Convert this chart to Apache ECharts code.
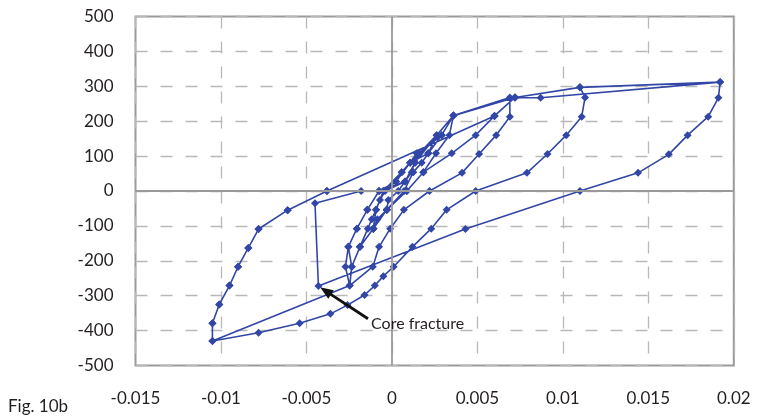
<!DOCTYPE html>
<html>
<head>
<meta charset="utf-8">
<script src="https://cdn.jsdelivr.net/npm/echarts@6/dist/echarts.min.js"></script>
<style>
  html, body { margin: 0; padding: 0; background: #fff; }
  #chart { width: 771px; height: 419px; }
</style>
</head>
<body>
<div id="chart"></div>
<script>
// Axis ticks
const xTicks = [-0.015, -0.01, -0.005, 0, 0.005, 0.01, 0.015, 0.02];
const yTicks = [-500, -400, -300, -200, -100, 0, 100, 200, 300, 400, 500];

// Load path, [strain, load], in test order
const smallCycles = [
  [-0.0005, 0], [0.00024, 27], [0.00057, 54], [0.00106, 81], [0.00145, 108],
  [0.00116, 54], [0.00037, 0], [-0.00021, -26], [-0.0003, -54], [-0.00085, -81], [-0.00109, -108],
  [-0.00093, -54], [-0.0007, -26], [-0.0004, 0],
  [0.00077, 27], [0.00135, 81], [0.0016, 108], [0.00262, 160],
  [0.00213, 108], [0.00174, 81], [0.00125, 54], [0.00071, 0], [-0.0003, -54], [-0.00109, -108], [-0.00187, -160],
  [-0.00141, -108], [-0.00118, -81], [-0.00093, -54], [-0.0005, 0],
  [0.00057, 54], [0.0016, 108], [0.00291, 160], [0.0036, 216],
  [0.00336, 160], [0.00258, 108], [0.00184, 54], [0.00087, 0], [-0.0003, -54], [-0.00109, -108], [-0.00187, -160], [-0.00235, -217],
  [-0.00255, -160], [-0.00205, -108], [-0.00144, -54], [-0.00075, 0], [0.00024, 27], [0.00106, 81], [0.00213, 108], [0.00291, 160], [0.0036, 216]
];
const cycleB1 = [
  [0.0069, 268], [0.0069, 213], [0.0061, 160], [0.0051, 106], [0.0041, 52], [0.0022, 0],
  [0.0007, -54], [-0.0001, -108], [-0.00075, -160], [-0.00112, -217], [-0.00247, -271],
  [-0.00272, -217], [-0.00255, -160], [-0.00205, -108], [-0.00144, -54], [-0.00075, 0],
  [0.00077, 27], [0.00135, 81], [0.00262, 160], [0.0036, 216], [0.0072, 268]
];
const cycleB2 = [
  [0.006, 215], [0.0049, 160], [0.0035, 108], [0.00184, 54], [0.00087, 0], [-0.0003, -54],
  [-0.00109, -108], [-0.00187, -160], [-0.00235, -217], [-0.00247, -271], [-0.0105, -430]
];
const unloadFromMin = [
  [-0.0105, -379], [-0.0101, -325], [-0.0095, -271], [-0.009, -217], [-0.0084, -163],
  [-0.0078, -109], [-0.0061, -55], [-0.0038, 0]
];
const cycleC = [
  [0.006, 215], [0.0072, 268], [0.011, 297],
  [0.0113, 268], [0.0111, 213], [0.0102, 160], [0.0091, 106], [0.0079, 52], [0.0049, 0],
  [0.0032, -54], [0.0023, -108], [0.0012, -160], [0.0001, -217], [-0.0005, -244], [-0.001, -271],
  [-0.0016, -298], [-0.0026, -327], [-0.0036, -352], [-0.0054, -379], [-0.0078, -406], [-0.0105, -430]
];
const cycleD = [
  [0.006, 215], [0.0072, 268], [0.0087, 267], [0.0192, 312], [0.011, 297], [0.0192, 312],
  [0.0191, 267], [0.0185, 213], [0.0173, 160], [0.0162, 105], [0.0144, 52], [0.011, 0],
  [0.0043, -109], [-0.0043, -272], [-0.0045, -35], [-0.0018, 0]
];

const path = [].concat(smallCycles, cycleB1, cycleB2, unloadFromMin, cycleC, unloadFromMin, cycleD);

// Annotation, in data units
const noteText = 'Core fracture';
const notePos = [-0.00122, -381];
const arrowFrom = [-0.0014, -366];
const arrowTo = [-0.0042, -276];

const FONT = 'Lato, "Noto Sans", sans-serif';
const INK = '#231f20';
const BLUE = '#3146a6';

const chart = echarts.init(document.getElementById('chart'), null, { renderer: 'canvas' });

const fmt = v => String(+v.toFixed(3));

chart.setOption({
  animation: false,
  backgroundColor: '#fff',
  textStyle: { fontFamily: FONT },
  grid: {
    left: 135.5, right: 37.2, top: 16.5, bottom: 53.5,
    show: true, borderColor: '#9a9a9a', borderWidth: 2, backgroundColor: 'transparent'
  },
  xAxis: {
    type: 'value', min: xTicks[0], max: xTicks[xTicks.length - 1], interval: 0.005,
    axisLine: { show: false, onZero: false },
    axisTick: { show: false },
    axisLabel: { formatter: fmt, color: INK, fontSize: 17, fontFamily: FONT, margin: 25 },
    splitLine: { show: true, lineStyle: { color: '#b8b8b8', width: 1.3, type: [12, 13] } }
  },
  yAxis: {
    type: 'value', min: yTicks[0], max: yTicks[yTicks.length - 1], interval: 100,
    axisLine: { show: false, onZero: false },
    axisTick: { show: false },
    axisLabel: { color: INK, fontSize: 17, fontFamily: FONT, margin: 22 },
    splitLine: { show: true, lineStyle: { color: '#b8b8b8', width: 1.3, type: [12, 13] } }
  },
  series: [
    {
      name: 'axes',
      type: 'line', data: [], z: 1, silent: true,
      markLine: {
        silent: true, symbol: ['none', 'none'], label: { show: false },
        lineStyle: { color: '#9a9a9a', width: 1.8, type: 'solid' },
        data: [{ xAxis: 0 }, { yAxis: 0 }]
      }
    },
    {
      name: 'hysteresis',
      type: 'line', data: path, z: 3,
      symbol: 'diamond', symbolSize: 8,
      lineStyle: { color: BLUE, width: 1.6 },
      itemStyle: { color: BLUE }
    }
  ]
});

// Callout: arrow and label placed through the axes' scales
const toPx = v => chart.convertToPixel({ gridIndex: 0 }, v);
const a = toPx(arrowFrom), b = toPx(arrowTo), t = toPx(notePos);
const dx = b[0] - a[0], dy = b[1] - a[1], len = Math.hypot(dx, dy);
const ux = dx / len, uy = dy / len;
const headLen = 13, headHalf = 5;
const base = [b[0] - ux * headLen, b[1] - uy * headLen];
const head = [
  [b[0], b[1]],
  [base[0] - uy * headHalf, base[1] + ux * headHalf],
  [base[0] + uy * headHalf, base[1] - ux * headHalf]
];

chart.setOption({
  graphic: [
    {
      type: 'line', z: 10,
      shape: { x1: a[0], y1: a[1], x2: base[0] + ux * 2, y2: base[1] + uy * 2 },
      style: { stroke: '#111', lineWidth: 2.8 }
    },
    {
      type: 'polygon', z: 10,
      shape: { points: head },
      style: { fill: '#111' }
    },
    {
      type: 'text', left: 8, top: 398,
      style: { text: 'Fig. 10b', font: '17px ' + FONT, fill: INK }
    },
    {
      type: 'text', x: t[0], y: t[1], z: 10,
      style: { text: noteText, font: '16px ' + FONT, fill: INK, textVerticalAlign: 'middle' }
    }
  ]
});
</script>
</body>
</html>
